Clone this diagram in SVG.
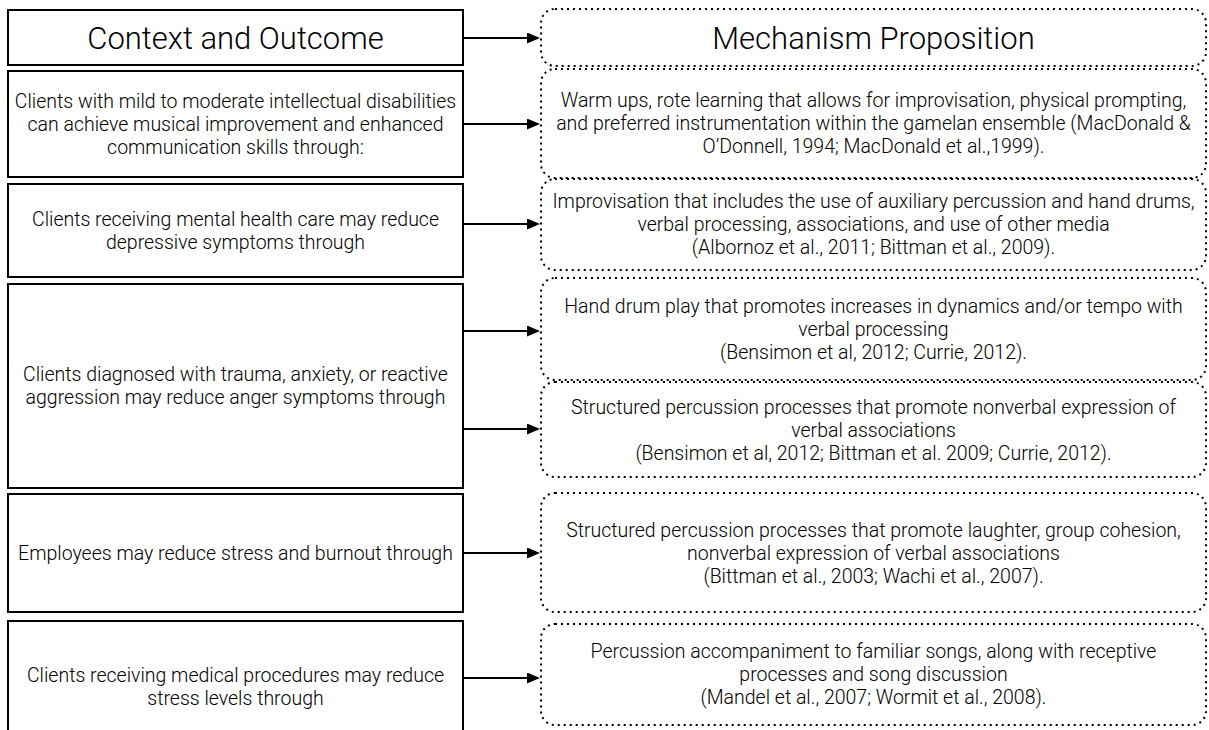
<svg xmlns="http://www.w3.org/2000/svg" width="1209" height="730" viewBox="0 0 1209 730">
<defs>
<marker id="ah" markerUnits="userSpaceOnUse" markerWidth="13" markerHeight="11" refX="0" refY="5.5" orient="auto">
<path d="M0,0 L13,5.5 L0,11 z" fill="#000"/>
</marker>
<style>
.box{fill:#fff;stroke:#000;stroke-width:2}
.dot{fill:#fff;stroke:#000;stroke-width:2;stroke-dasharray:2 4}
.conn{fill:none;stroke:#000;stroke-width:2;marker-end:url(#ah)}
text{font-family:Roboto,"Liberation Sans",Arial,sans-serif;font-weight:300;fill:#000;text-anchor:middle}
.t{font-size:19.5px}
.h{font-size:31px}
</style>
</defs>
<rect width="1209" height="730" fill="#fff"/>
<g id="connectors">
<path class="conn" d="M463,38 H527"/>
<path class="conn" d="M463,124 H527"/>
<path class="conn" d="M463,224 H527"/>
<path class="conn" d="M463,331 H527"/>
<path class="conn" d="M463,429 H527"/>
<path class="conn" d="M463,553 H527"/>
<path class="conn" d="M463,678 H527"/>
</g>
<g id="ctx-header">
<rect class="box" x="8" y="10" width="455" height="55"/>
<text class="h" x="235.5" y="48.5">Context and Outcome</text>
</g>
<g id="ctx-1">
<rect class="box" x="8" y="71" width="455" height="106"/>
<text class="t" x="235.5" y="107.5">Clients with mild to moderate intellectual disabilities</text>
<text class="t" x="235.5" y="130.5">can achieve musical improvement and enhanced</text>
<text class="t" x="235.5" y="153.5">communication skills through:</text>
</g>
<g id="ctx-2">
<rect class="box" x="8" y="184" width="455" height="93"/>
<text class="t" x="235.5" y="225.5">Clients receiving mental health care may reduce</text>
<text class="t" x="235.5" y="248.5">depressive symptoms through</text>
</g>
<g id="ctx-3">
<rect class="box" x="8" y="284" width="455" height="204"/>
<text class="t" x="235.5" y="381">Clients diagnosed with trauma, anxiety, or reactive</text>
<text class="t" x="235.5" y="404">aggression may reduce anger symptoms through</text>
</g>
<g id="ctx-4">
<rect class="box" x="8" y="494" width="455" height="118"/>
<text class="t" x="235.5" y="559.5">Employees may reduce stress and burnout through</text>
</g>
<g id="ctx-5">
<rect class="box" x="8" y="621" width="455" height="130"/>
<text class="t" x="235.5" y="681.5">Clients receiving medical procedures may reduce</text>
<text class="t" x="235.5" y="704.5">stress levels through</text>
</g>
<g id="mech-header">
<rect class="dot" x="541" y="9" width="665" height="57" rx="14"/>
<text class="h" x="873.5" y="48.5">Mechanism Proposition</text>
</g>
<g id="mech-1">
<rect class="dot" x="541" y="69" width="665" height="109" rx="14"/>
<text class="t" x="873.5" y="107">Warm ups, rote learning that allows for improvisation, physical prompting,</text>
<text class="t" x="873.5" y="130">and preferred instrumentation within the gamelan ensemble (MacDonald &amp;</text>
<text class="t" x="873.5" y="153">O’Donnell, 1994; MacDonald et al.,1999).</text>
</g>
<g id="mech-2">
<rect class="dot" x="541" y="179" width="665" height="91" rx="14"/>
<text class="t" x="873.5" y="208">Improvisation that includes the use of auxiliary percussion and hand drums,</text>
<text class="t" x="873.5" y="231">verbal processing, associations, and use of other media</text>
<text class="t" x="873.5" y="254">(Albornoz et al., 2011; Bittman et al., 2009).</text>
</g>
<g id="mech-3">
<rect class="dot" x="541" y="278" width="665" height="102" rx="14"/>
<text class="t" x="873.5" y="313">Hand drum play that promotes increases in dynamics and/or tempo with</text>
<text class="t" x="873.5" y="336">verbal processing</text>
<text class="t" x="873.5" y="359">(Bensimon et al, 2012; Currie, 2012).</text>
</g>
<g id="mech-4">
<rect class="dot" x="541" y="382" width="665" height="95" rx="14"/>
<text class="t" x="873.5" y="414">Structured percussion processes that promote nonverbal expression of</text>
<text class="t" x="873.5" y="437">verbal associations</text>
<text class="t" x="873.5" y="460">(Bensimon et al, 2012; Bittman et al. 2009; Currie, 2012).</text>
</g>
<g id="mech-5">
<rect class="dot" x="541" y="493" width="665" height="119" rx="14"/>
<text class="t" x="873.5" y="537">Structured percussion processes that promote laughter, group cohesion,</text>
<text class="t" x="873.5" y="560">nonverbal expression of verbal associations</text>
<text class="t" x="873.5" y="583">(Bittman et al., 2003; Wachi et al., 2007).</text>
</g>
<g id="mech-6">
<rect class="dot" x="541" y="624" width="665" height="101" rx="14"/>
<text class="t" x="873.5" y="658">Percussion accompaniment to familiar songs, along with receptive</text>
<text class="t" x="873.5" y="681">processes and song discussion</text>
<text class="t" x="873.5" y="704">(Mandel et al., 2007; Wormit et al., 2008).</text>
</g>
</svg>
